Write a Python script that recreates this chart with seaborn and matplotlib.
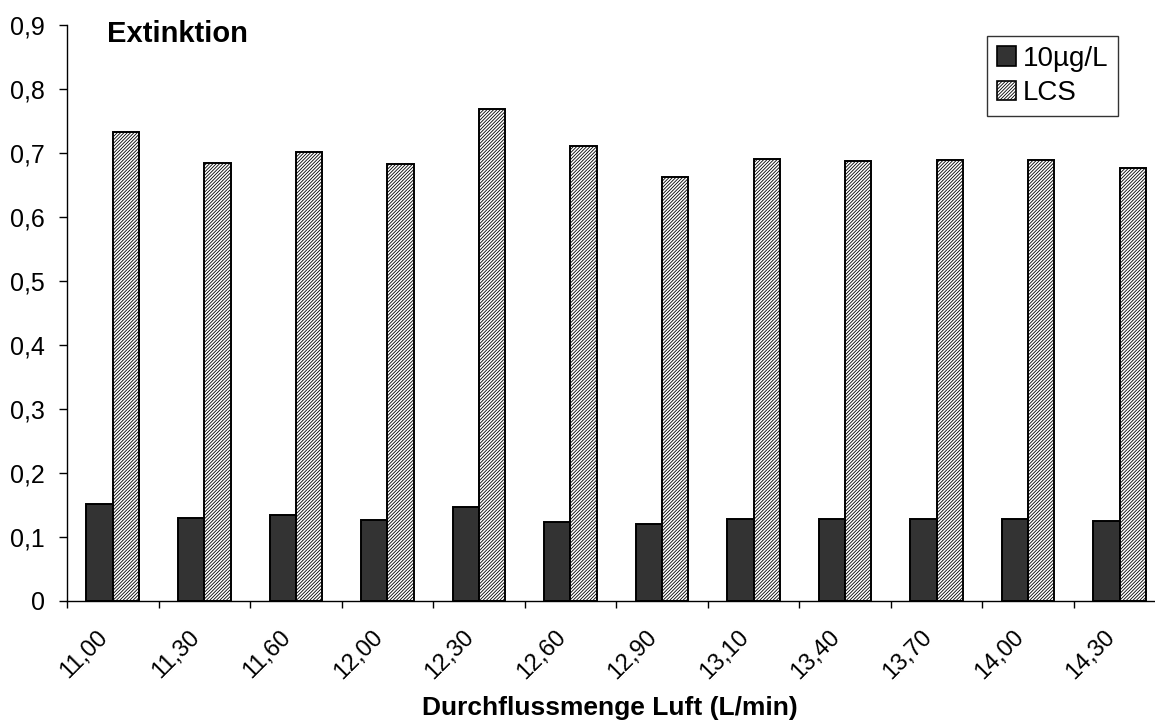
import matplotlib
matplotlib.use("Agg")
import matplotlib.pyplot as plt
import matplotlib.transforms as mtransforms
from matplotlib.patches import Patch
import seaborn as sns
import pandas as pd

# Air flow rates (L/min) and measured extinction values
flow_labels = ["11,00", "11,30", "11,60", "12,00", "12,30", "12,60",
               "12,90", "13,10", "13,40", "13,70", "14,00", "14,30"]
ext_10ug = [0.151, 0.129, 0.134, 0.126, 0.147, 0.123,
            0.120, 0.127, 0.128, 0.128, 0.127, 0.124]
ext_lcs = [0.732, 0.684, 0.701, 0.682, 0.768, 0.711,
           0.663, 0.691, 0.688, 0.689, 0.689, 0.677]
series_names = ["10µg/L", "LCS"]

df = pd.DataFrame({
    "flow": flow_labels * 2,
    "value": ext_10ug + ext_lcs,
    "series": [series_names[0]] * len(flow_labels) + [series_names[1]] * len(flow_labels),
})

sns.set_theme(style="white")
plt.rcParams["font.family"] = ["Liberation Sans", "DejaVu Sans"]
plt.rcParams["text.color"] = "black"
plt.rcParams["xtick.color"] = "black"
plt.rcParams["ytick.color"] = "black"
plt.rcParams["hatch.linewidth"] = 0.6

dark = "#333333"
hatch = "/" * 10
fig = plt.figure(figsize=(11.55, 7.22), dpi=100)
ax = fig.add_axes([67 / 1155, 121.5 / 722, 1098.5 / 1155, 575.5 / 722])

sns.barplot(data=df, x="flow", y="value", hue="series", order=flow_labels,
            hue_order=series_names, palette=[dark, "white"], width=0.574,
            gap=0, saturation=1, edgecolor="black", linewidth=1.4,
            legend=False, ax=ax)

n = len(flow_labels)
for i, p in enumerate(ax.patches[:2 * n]):
    if i >= n:
        p.set_hatch(hatch)
        p.set_edgecolor("black")

ax.set_xlim(-0.5, n - 0.5)
ax.set_ylim(0, 0.9)
ax.set_yticks([i / 10 for i in range(10)])
ax.set_yticklabels(["0"] + [f"0,{i}" for i in range(1, 10)], fontsize=18)

ax.set_xticks([i - 0.5 for i in range(n + 1)])
ax.set_xticklabels([])
ax.set_xticks(range(n), minor=True)
ax.set_xticklabels(flow_labels, minor=True, rotation=45, ha="right",
                   va="center", rotation_mode="anchor", fontsize=17)
ax.tick_params(axis="x", which="minor", length=0, pad=24)
ax.tick_params(axis="x", which="major", direction="out", length=5,
               width=1, bottom=True)
ax.tick_params(axis="y", which="major", direction="out", length=6,
               width=1, left=True, pad=10)

# nudge the rotated flow labels slightly left of the category centres
shift = mtransforms.ScaledTranslation(-8 / 100, 0, fig.dpi_scale_trans)
for lbl in ax.get_xticklabels(minor=True):
    lbl.set_transform(lbl.get_transform() + shift)

for side in ("top", "right"):
    ax.spines[side].set_visible(False)
for side in ("left", "bottom"):
    ax.spines[side].set_color("black")
    ax.spines[side].set_linewidth(1)

ax.set_xlabel("")
ax.set_ylabel("")
fig.text(610 / 1155, 1 - 708 / 722, "Durchflussmenge Luft (L/min)",
         ha="center", va="center", fontsize=19, fontweight="bold")
fig.text(107 / 1155, 1 - 34 / 722, "Extinktion", ha="left", va="center",
         fontsize=21, fontweight="bold")

handles = [
    Patch(facecolor=dark, edgecolor="black", linewidth=1.2, label=series_names[0]),
    Patch(facecolor="white", edgecolor="black", hatch=hatch, linewidth=1.2,
          label=series_names[1]),
]
leg = fig.legend(handles=handles, loc="upper left",
                 bbox_to_anchor=(987 / 1155, 1 - 36 / 722), fontsize=20,
                 frameon=True, fancybox=False, shadow=False,
                 handlelength=0.7, handleheight=0.7, handletextpad=0.25,
                 borderpad=0.35, labelspacing=0.3, borderaxespad=0)
leg.get_frame().set_edgecolor("black")
leg.get_frame().set_linewidth(1)

fig.savefig("out.png", dpi=100)
